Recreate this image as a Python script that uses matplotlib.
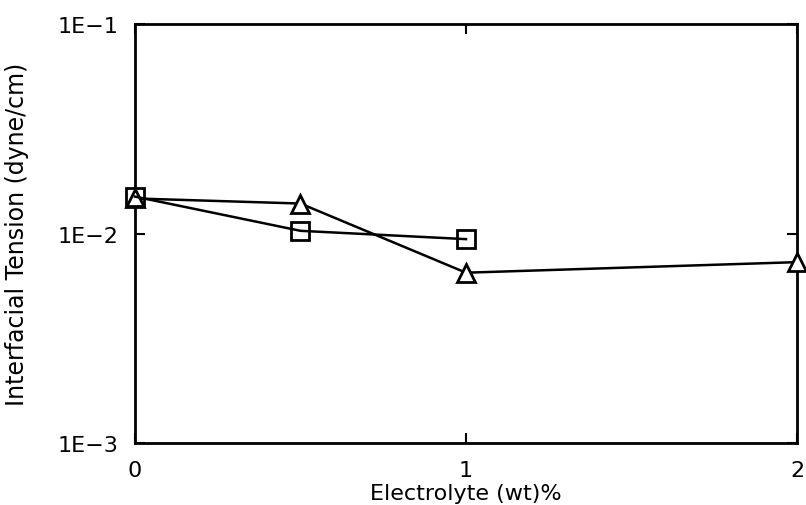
import matplotlib
matplotlib.use("Agg")
import matplotlib.pyplot as plt
from matplotlib.ticker import FixedLocator, NullLocator

# electrolyte concentration (wt %) and interfacial tension (dyne/cm)
tri_x = [0.0, 0.5, 1.0, 2.0]
tri_y = [0.0147, 0.0139, 0.0065, 0.0073]

sq_x = [0.0, 0.5, 1.0]
sq_y = [0.0150, 0.0103, 0.0094]

x_ticks = [0, 1, 2]
x_labels = ["0", "1", "2"]
y_ticks = [1e-3, 1e-2, 1e-1]
y_labels = ["1E\u22123", "1E\u22122", "1E\u22121"]

plt.rcParams['font.family'] = ['DejaVu Sans']

fig = plt.figure(figsize=(8.06, 5.06), dpi=100)
ax = fig.add_axes([0.1675, 0.1225, 0.8213, 0.8281])

ax.plot(tri_x, tri_y, color="black", lw=1.8, marker="^", ms=13,
        mfc="white", mec="black", mew=2, clip_on=False, zorder=3)
ax.plot(sq_x, sq_y, color="black", lw=1.8, marker="s", ms=13,
        mfc="none", mec="black", mew=2, clip_on=False, zorder=4)

ax.set_yscale("log")
ax.set_xlim(0, 2)
ax.set_ylim(1e-3, 1e-1)

ax.yaxis.set_major_locator(FixedLocator(y_ticks))
ax.yaxis.set_minor_locator(NullLocator())
ax.set_yticks(y_ticks)
ax.set_yticklabels(y_labels, fontsize=16)
ax.set_xticks(x_ticks)
ax.set_xticklabels(x_labels, fontsize=16)

ax.tick_params(direction="in", length=7, width=1.5, top=True, right=True, pad=12)
for s in ax.spines.values():
    s.set_linewidth(2)

ax.set_xlabel("Electrolyte (wt)%", fontsize=16)
ax.set_ylabel("Interfacial Tension (dyne/cm)", fontsize=17)
ax.xaxis.set_label_coords(0.5, -0.096)
ax.yaxis.set_label_coords(-0.16, 0.5)

fig.savefig("out.png", dpi=100)
